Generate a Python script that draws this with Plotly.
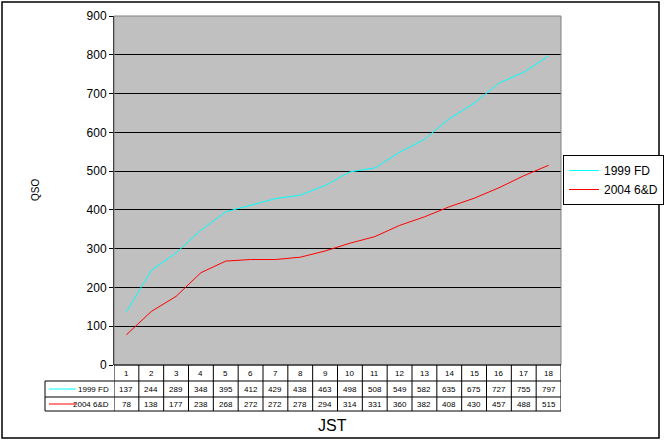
import plotly.graph_objects as go

hours = list(range(1, 19))
fd1999 = [137, 244, 289, 348, 395, 412, 429, 438, 463, 498, 508, 549, 582, 635, 675, 727, 755, 797]
gd2004 = [78, 138, 177, 238, 268, 272, 272, 278, 294, 314, 331, 360, 382, 408, 430, 457, 488, 515]
series_names = ["1999 FD", "2004 6&D"]
series_colors = ["#00FFFF", "#FF0000"]
yticks = list(range(0, 901, 100))

W, H = 664, 442
L, R, T, B = 114, 103, 16, 77
PW, PH = W - L - R, H - T - B

def px(x):
    return (x - L) / PW

def py(y):
    return (H - B - y) / PH

fig = go.Figure()
for name, vals, col in zip(series_names, [fd1999, gd2004], series_colors):
    fig.add_trace(go.Scatter(x=hours, y=vals, mode="lines", name=name,
                             line=dict(color=col, width=1)))

shapes = []
annotations = []
shapes.append(dict(type="rect", xref="paper", yref="paper", x0=px(2), x1=px(659),
                   y0=py(438), y1=py(2), line=dict(color="black", width=1.5), layer="above"))
shapes.append(dict(type="rect", xref="paper", yref="paper", x0=0, x1=1, y0=0, y1=1,
                   line=dict(color="#808080", width=1), layer="above"))
row_lines = [365, 381, 397, 411]
tfont = dict(family="Liberation Sans, Arial", size=8, color="black")
shapes.append(dict(type="line", xref="paper", yref="paper", x0=0, x1=1, y0=py(365), y1=py(365),
                   line=dict(color="black", width=1)))
for yl in row_lines[1:]:
    shapes.append(dict(type="line", xref="paper", yref="paper", x0=px(45), x1=1, y0=py(yl), y1=py(yl),
                       line=dict(color="black", width=1)))
for k in range(len(hours) + 1):
    shapes.append(dict(type="line", xref="x", yref="paper", x0=0.5 + k, x1=0.5 + k,
                       y0=py(411), y1=py(365), line=dict(color="black", width=1)))
shapes.append(dict(type="line", xref="paper", yref="paper", x0=px(45), x1=px(45),
                   y0=py(411), y1=py(381), line=dict(color="black", width=1)))
for h in hours:
    annotations.append(dict(x=h, y=py(373), xref="x", yref="paper", text=str(h),
                            showarrow=False, font=tfont, xanchor="center", yanchor="middle"))
row_mid = [389, 404]
for name, vals, col, ym in zip(series_names, [fd1999, gd2004], series_colors, row_mid):
    for h, v in zip(hours, vals):
        annotations.append(dict(x=h, y=py(ym), xref="x", yref="paper", text=str(v),
                                showarrow=False, font=tfont, xanchor="center", yanchor="middle"))
    shapes.append(dict(type="line", xref="paper", yref="paper", x0=px(49), x1=px(76),
                       y0=py(ym), y1=py(ym), line=dict(color=col, width=1)))
    annotations.append(dict(x=px(111), y=py(ym), xref="paper", yref="paper", text=name,
                            showarrow=False, font=tfont, xanchor="right", yanchor="middle"))
annotations.append(dict(x=px(35), y=py(190), xref="paper", yref="paper", text="QSO",
                        textangle=-90, showarrow=False, xanchor="center", yanchor="middle",
                        font=dict(family="Liberation Sans, Arial", size=10, color="black")))
annotations.append(dict(x=px(332), y=py(425), xref="paper", yref="paper", text="JST",
                        showarrow=False, xanchor="center", yanchor="middle",
                        font=dict(family="Liberation Sans, Arial", size=16, color="black")))

fig.update_layout(
    width=W, height=H,
    margin=dict(l=L, r=R, t=T, b=B, pad=0, autoexpand=False),
    paper_bgcolor="white", plot_bgcolor="#C0C0C0",
    showlegend=True,
    legend=dict(x=px(563), y=py(180), xanchor="left", yanchor="middle",
                bordercolor="black", borderwidth=1, bgcolor="white",
                font=dict(family="Liberation Sans, Arial", size=12, color="black"),
                tracegroupgap=0, itemwidth=30),
    xaxis=dict(range=[0.5, 18.5], showticklabels=False, showgrid=False, zeroline=False,
               ticks="", showline=False, fixedrange=True, automargin=False),
    yaxis=dict(range=[0, 900], tickvals=yticks, ticktext=[str(v) for v in yticks],
               showgrid=True, gridcolor="black", gridwidth=1, zeroline=False,
               ticks="outside", ticklen=4, tickcolor="black", showline=True,
               linecolor="black", linewidth=1, automargin=False,
               tickfont=dict(family="Liberation Sans, Arial", size=12, color="black")),
    shapes=shapes, annotations=annotations,
    font=dict(family="Liberation Sans, Arial"),
)
fig.write_html("out.html", config={"displayModeBar": False},
               post_script="document.body.style.margin='0';document.body.style.padding='0';")
